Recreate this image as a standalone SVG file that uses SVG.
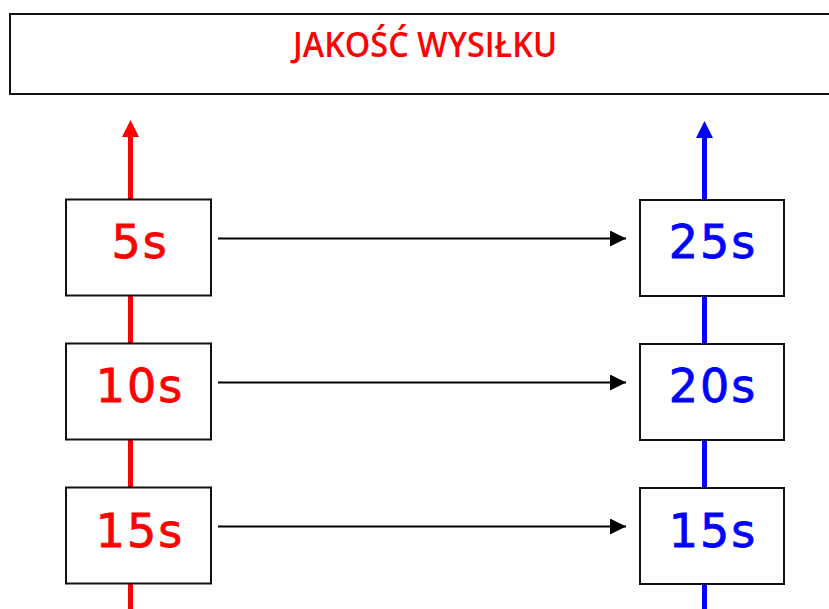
<svg xmlns="http://www.w3.org/2000/svg" width="829" height="609" viewBox="0 0 829 609">
  <style>
    .box { fill: #ffffff; stroke: #111111; stroke-width: 2; }
    .num { font-family: "DejaVu Sans", "Liberation Sans", sans-serif; font-size: 46px; text-anchor: middle; stroke-width: 0.8; letter-spacing: 2px; }
    .red { fill: #ff0000; stroke: #ff0000; }
    .blue { fill: #0000ff; stroke: #0000ff; }
    .link { stroke: #000000; stroke-width: 2; fill: none; marker-end: url(#tip); }
  </style>
  <defs>
    <marker id="tip" viewBox="0 0 16 16" refX="16" refY="8" markerWidth="16" markerHeight="16" markerUnits="userSpaceOnUse" orient="auto">
      <path d="M0,0 L16,8 L0,16 Z" fill="#000000"/>
    </marker>
  </defs>
  <rect width="829" height="609" fill="#ffffff"/>

  <!-- header -->
  <g id="header">
    <rect x="10" y="14" width="830" height="80" class="box"/>
    <text x="425" y="57" font-family="Open Sans, Liberation Sans, sans-serif" font-weight="600" font-size="35" fill="#ff0000" text-anchor="middle" textLength="264" lengthAdjust="spacingAndGlyphs">JAKOŚĆ WYSIŁKU</text>
  </g>

  <!-- vertical axes -->
  <g id="axes">
    <line x1="130.5" y1="134" x2="130.5" y2="609" stroke="#ff0000" stroke-width="5"/>
    <path d="M122,137 L130.5,120 L139,137 Z" fill="#ff0000"/>
    <line x1="704.5" y1="134" x2="704.5" y2="609" stroke="#0000ff" stroke-width="5"/>
    <path d="M696,138 L704.5,121 L713,138 Z" fill="#0000ff"/>
  </g>

  <!-- connectors -->
  <g id="connectors">
    <line x1="218" y1="238.5" x2="626" y2="238.5" class="link"/>
    <line x1="218" y1="382.5" x2="626" y2="382.5" class="link"/>
    <line x1="218" y1="526.5" x2="626" y2="526.5" class="link"/>
  </g>

  <!-- left column -->
  <g id="left-5s">
    <rect x="66" y="199.5" width="145" height="96" class="box"/>
    <text x="140" y="258" class="num red">5s</text>
  </g>
  <g id="left-10s">
    <rect x="66" y="343.5" width="145" height="96" class="box"/>
    <text x="140" y="402" class="num red">10s</text>
  </g>
  <g id="left-15s">
    <rect x="66" y="487.5" width="145" height="96" class="box"/>
    <text x="140" y="547" class="num red">15s</text>
  </g>

  <!-- right column -->
  <g id="right-25s">
    <rect x="640" y="200" width="144" height="96" class="box"/>
    <text x="713" y="258" class="num blue">25s</text>
  </g>
  <g id="right-20s">
    <rect x="640" y="344" width="144" height="96" class="box"/>
    <text x="713" y="402" class="num blue">20s</text>
  </g>
  <g id="right-15s">
    <rect x="640" y="488" width="144" height="96" class="box"/>
    <text x="713" y="547" class="num blue">15s</text>
  </g>
</svg>
